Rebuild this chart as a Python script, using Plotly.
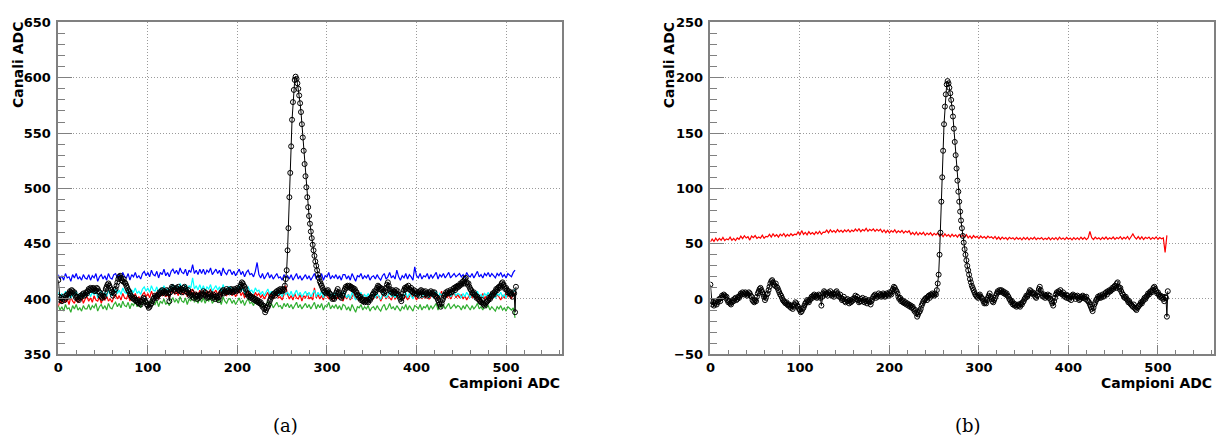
import numpy as np
import plotly.graph_objects as go

# ---------------- data ----------------
# Raw ADC traces (panel a), one value every 2 samples (samples 0..510)
BLUE_A = [
    422,418,421,417,423,419,420,416,422,419,423,418,420,417,422,419,
    418,422,417,421,419,423,416,420,422,418,421,417,423,419,418,422,
    423,419,422,418,424,420,419,423,417,422,420,424,419,421,418,423,
    425,421,424,420,426,422,421,425,419,424,422,427,421,424,420,425,
    427,423,426,422,428,424,423,427,421,426,424,431,423,426,422,427,
    423,427,422,426,424,428,422,425,427,423,426,421,428,424,422,426,
    426,422,425,421,424,427,422,425,420,424,426,422,423,420,425,433,
    422,419,423,418,421,424,419,422,418,421,423,419,420,417,422,419,
    421,418,422,417,420,423,418,421,417,420,422,418,421,417,420,423,
    418,422,419,423,417,421,420,424,418,421,419,422,418,421,417,422,
    422,418,421,417,423,419,416,421,420,423,418,421,419,422,417,420,
    421,418,422,419,417,421,423,418,420,424,419,421,418,426,420,417,
    421,419,423,418,422,420,417,429,421,419,423,418,421,420,423,418,
    422,419,421,424,418,422,420,423,419,422,424,419,421,423,420,422,
    423,420,422,419,424,421,420,423,419,422,425,420,422,419,423,421,
    424,420,423,421,419,423,421,424,420,422,419,423,421,420,424,426,
]
CYAN_A = [
    406,402,405,401,407,403,404,400,406,403,407,402,404,401,406,403,
    403,407,402,406,404,408,401,405,407,403,406,402,408,404,403,407,
    409,405,408,404,410,406,405,409,403,408,406,410,405,407,404,409,
    411,407,410,406,412,408,407,411,405,410,408,412,407,409,406,411,
    413,409,412,408,414,410,409,413,407,412,410,419,409,412,408,413,
    408,412,407,411,409,413,407,410,412,408,411,406,413,409,407,411,
    411,407,410,406,409,412,407,410,405,409,411,407,408,405,410,407,
    408,404,407,403,406,409,404,407,403,406,408,404,405,402,407,404,
    406,403,407,402,405,408,403,406,402,405,407,403,406,402,405,408,
    402,406,403,407,401,405,404,408,402,405,403,406,402,405,401,406,
    405,401,404,400,406,402,399,404,403,406,401,404,402,405,400,403,
    404,401,405,402,400,404,406,401,403,407,402,404,401,405,403,400,
    404,402,406,401,405,403,400,405,404,402,406,401,404,403,406,401,
    405,402,404,407,401,405,403,406,402,405,407,402,404,406,403,405,
    404,401,405,402,406,403,401,405,402,404,407,402,404,401,405,403,
    406,402,405,403,401,405,403,406,402,404,401,406,404,407,405,409,
]
RED_A = [
    393,399,396,401,397,400,395,402,398,396,401,397,399,403,396,400,
    402,398,401,397,403,399,398,402,396,401,399,403,398,400,397,402,
    404,400,403,399,405,401,400,404,398,403,401,405,400,402,399,404,
    406,402,405,401,407,403,402,406,400,405,403,407,402,404,401,406,
    408,404,407,403,409,405,404,408,402,407,405,409,404,406,403,408,
    404,408,403,407,405,409,403,406,408,404,407,402,409,405,403,407,
    407,403,406,402,405,408,403,406,401,405,407,403,404,401,406,403,
    405,401,404,400,403,406,401,404,400,403,405,401,402,399,404,412,
    404,400,403,399,405,401,400,404,398,403,401,405,400,402,399,410,
    401,404,400,403,399,405,402,400,404,399,402,406,400,403,401,398,
    403,400,404,399,402,405,400,403,399,401,404,400,402,398,403,401,
    400,404,401,403,398,402,405,400,403,401,399,404,400,402,405,399,
    404,400,403,399,402,405,401,403,399,402,406,400,403,401,404,400,
    402,406,401,404,400,403,407,402,405,401,404,400,403,406,401,404,
    401,404,400,403,399,402,405,401,404,400,403,398,402,405,400,403,
    404,400,403,406,401,404,402,399,403,401,405,402,404,400,406,405,
]
GREEN_A = [
    394,390,393,389,395,391,392,388,394,391,395,390,392,389,394,391,
    391,395,390,394,392,396,389,393,395,391,394,390,396,392,391,395,
    397,393,396,392,398,394,393,397,391,396,394,398,393,395,392,397,
    399,395,398,394,400,396,395,399,393,398,396,400,395,397,394,399,
    401,397,400,396,402,398,397,401,395,400,398,405,397,400,396,401,
    397,401,396,400,398,402,396,399,401,397,400,395,402,398,396,400,
    400,396,399,395,398,401,396,399,394,398,400,396,397,394,399,396,
    397,393,396,392,395,398,393,396,392,395,397,393,394,391,396,393,
    396,392,395,391,394,397,392,395,391,394,396,392,395,391,394,397,
    391,395,392,396,390,394,393,397,391,394,392,395,391,394,390,395,
    394,390,393,389,395,391,388,393,392,395,390,393,391,394,389,392,
    393,390,394,391,389,393,395,390,392,396,391,393,390,394,392,389,
    393,391,395,390,394,392,389,394,393,391,395,390,393,392,395,390,
    394,391,393,396,390,394,392,395,391,394,396,391,393,395,392,394,
    393,390,394,391,395,392,390,394,391,393,396,391,393,390,394,392,
    394,390,393,391,389,393,391,394,390,392,389,393,391,390,392,383,
]

# Pedestal-subtracted signal, every sample 0..511 (panel b, black)
SIGNAL = [
    13,-2,-5,-3,-6,-4,-2,-5,-3,-1,0,-2,1,3,2,4,
    3,1,2,-1,-3,-2,-4,-5,-3,-1,-2,0,1,-1,0,2,
    1,3,5,4,6,5,4,6,5,3,4,6,5,3,2,-1,
    -2,-3,-1,-2,2,5,7,9,10,8,6,4,2,-1,1,4,
    5,8,11,14,16,17,15,13,12,14,11,10,8,6,4,3,
    1,-1,-2,-3,-4,-3,-5,-6,-5,-7,-8,-6,-9,-7,-5,-3,
    -4,-6,-7,-9,-10,-12,-11,-9,-8,-6,-4,-3,-1,-2,-3,-1,
    0,2,1,3,4,2,3,1,2,4,3,1,-6,2,5,7,
    6,4,5,3,6,5,7,4,3,5,2,4,6,7,5,3,
    2,4,1,-1,0,2,-2,-3,-1,0,-2,-4,-1,-3,-2,0,
    -1,1,3,0,2,-1,-3,-2,0,-2,1,-1,-3,0,-2,-4,
    -2,-1,-3,-5,-2,0,2,3,4,1,3,2,5,3,4,2,
    3,5,4,2,3,5,4,3,6,5,4,7,9,11,10,8,
    7,5,2,0,1,-2,-1,-3,-2,-4,-3,-5,-4,-6,-5,-7,
    -6,-8,-7,-9,-11,-10,-13,-16,-14,-12,-11,-9,-6,-4,-2,-1,
    0,1,-1,2,3,1,4,3,5,4,3,5,4,8,14,22,
    40,60,88,110,134,158,174,185,194,197,195,191,186,180,173,165,
    154,142,130,118,107,97,88,79,71,64,57,51,45,40,35,30,
    26,22,18,15,12,10,8,6,4,3,2,1,3,4,2,1,
    0,-2,-4,-3,-4,-1,1,3,5,2,0,-2,-3,-1,1,3,
    5,7,6,8,7,8,6,7,5,6,4,5,3,2,0,-1,
    -3,-2,-5,-4,-6,-5,-7,-6,-5,-6,-7,-4,-5,-3,-2,0,
    1,3,2,4,6,8,7,5,6,4,5,2,1,3,6,9,
    11,8,5,3,2,4,1,3,2,4,1,3,0,-2,-4,-6,
    -2,1,4,6,5,7,6,8,5,4,6,3,2,4,1,3,
    1,0,2,-1,3,4,2,3,0,2,3,1,-1,0,2,1,
    3,1,2,0,2,-1,-2,-3,-5,-7,-9,-11,-8,-5,-3,-1,
    0,2,1,3,1,2,4,2,3,5,6,4,7,6,8,7,
    8,10,9,11,12,10,14,15,11,9,10,7,5,4,2,1,
    2,0,-1,-3,-2,-4,-5,-6,-7,-5,-8,-9,-10,-8,-7,-6,
    -5,-3,-4,-2,-1,1,0,2,3,5,4,6,7,6,8,10,
    11,9,7,5,6,4,2,3,1,2,0,-2,2,1,-16,7,
]
PEDESTAL = 404  # ADC channels added back to show the raw black trace in panel a

# Panel b red trace, every 2 samples
RED_B = [
    51.5,54.2,52.0,55.0,52.6,54.8,53.1,55.6,52.9,54.3,53.5,55.9,53.0,54.7,52.8,55.2,
    54.0,56.8,54.6,57.2,55.1,56.3,53.2,56.9,55.4,57.3,54.8,56.1,55.0,57.6,54.9,56.6,
    56.2,58.4,56.0,58.9,56.7,58.1,55.9,58.6,57.0,59.2,56.4,58.3,56.8,59.0,57.3,58.5,
    58.1,60.6,57.9,61.8,58.4,60.2,58.0,60.9,58.7,60.1,58.3,60.7,58.9,61.2,58.5,60.4,
    60.2,62.3,59.8,62.6,60.5,61.9,60.1,62.8,60.7,62.0,60.3,62.4,60.9,62.7,60.4,62.2,
    61.0,63.2,61.4,63.5,60.9,62.8,61.6,63.9,61.2,63.0,61.7,63.4,61.1,62.9,61.5,63.1,
    60.3,62.4,60.0,62.1,59.7,61.8,60.4,62.5,59.9,61.6,60.2,61.9,59.6,61.4,60.1,61.7,
    58.4,60.1,58.0,60.5,57.8,59.9,58.3,60.2,57.6,59.5,58.1,59.8,57.4,59.3,57.9,59.6,
    56.7,58.6,56.3,58.9,56.8,58.2,56.1,58.5,56.6,58.0,55.9,58.3,56.4,57.8,56.0,58.1,
    55.2,57.0,54.8,57.3,55.5,56.6,54.6,56.9,55.1,56.4,54.7,56.8,55.3,56.2,54.5,56.5,
    54.1,56.0,53.8,55.9,54.3,55.5,53.6,55.8,54.4,55.3,53.7,55.6,54.0,55.2,53.5,55.7,
    53.9,55.6,53.4,55.3,54.0,55.8,53.7,55.1,54.2,55.5,53.6,55.0,53.9,55.7,53.5,55.2,
    53.8,55.4,53.5,55.9,54.1,55.2,53.6,55.6,54.0,55.1,53.4,55.5,53.9,55.3,53.7,55.8,
    54.0,55.7,53.6,55.2,61.0,55.5,53.8,55.9,54.2,55.3,53.7,55.6,54.1,56.0,53.9,55.4,
    54.3,56.0,53.9,55.6,54.5,56.3,54.0,55.8,54.4,56.5,53.8,56.1,58.8,55.9,54.2,56.4,
    54.1,56.2,53.8,55.7,54.6,56.0,53.9,55.5,54.3,56.1,54.0,55.6,54.4,55.2,42.0,57.5,
]

# axis ticks and labels
X_TICKS = [0, 100, 200, 300, 400, 500]
Y_TICKS_A = [350, 400, 450, 500, 550, 600, 650]
Y_TICKS_B = [-50, 0, 50, 100, 150, 200, 250]
X_TITLE = "Campioni ADC"
Y_TITLE = "Canali ADC"
X_MAX = 562.1

# ---------------- figure ----------------
W, H = 1220, 448
GREEN = "#2fae2f"

def xs_every2(vals):
    return np.arange(len(vals)) * 2

def bold_labels(vals):
    return ["<b>" + str(v).replace("-", "\u2212") + "</b>" for v in vals]

fig = go.Figure()

for vals, col in [(BLUE_A, "#0000ff"), (RED_A, "#ff0000"), (CYAN_A, "#00ffff"), (GREEN_A, GREEN)]:
    fig.add_trace(go.Scatter(x=xs_every2(vals), y=vals, mode="lines",
                             line=dict(color=col, width=1.2), xaxis="x", yaxis="y",
                             hoverinfo="skip", showlegend=False))

raw_black = np.array(SIGNAL) + PEDESTAL
marker = dict(symbol="circle-open", size=5, color="#000000", line=dict(width=1, color="#1a1a1a"))
fig.add_trace(go.Scatter(x=np.arange(len(SIGNAL)), y=raw_black, mode="lines+markers",
                         line=dict(color="#000000", width=1), marker=marker,
                         xaxis="x", yaxis="y", hoverinfo="skip", showlegend=False))

fig.add_trace(go.Scatter(x=xs_every2(RED_B), y=RED_B, mode="lines",
                         line=dict(color="#ff0000", width=1.2), xaxis="x2", yaxis="y2",
                         hoverinfo="skip", showlegend=False))
fig.add_trace(go.Scatter(x=np.arange(len(SIGNAL)), y=SIGNAL, mode="lines+markers",
                         line=dict(color="#000000", width=1), marker=marker,
                         xaxis="x2", yaxis="y2", hoverinfo="skip", showlegend=False))

FRAME = "#808080"
GRID = "#9a9a9a"
tickfont = dict(family="DejaVu Sans", size=13, color="#000000")

def xaxis(domain, anchor):
    return dict(domain=domain, anchor=anchor, range=[0, X_MAX],
                tickmode="array", tickvals=X_TICKS, ticktext=bold_labels(X_TICKS),
                ticks="inside", ticklen=10, tickwidth=1, tickcolor=FRAME,
                minor=dict(ticks="inside", ticklen=5, tick0=0, dtick=20, tickcolor=FRAME, showgrid=False),
                showgrid=True, gridcolor=GRID, griddash="1px,2px", gridwidth=1,
                showline=True, linecolor=FRAME, linewidth=1.5, mirror=True,
                zeroline=False, tickfont=tickfont, ticklabelstandoff=0)

def yaxis(domain, anchor, rng, ticks):
    return dict(domain=domain, anchor=anchor, range=rng,
                tickmode="array", tickvals=ticks, ticktext=bold_labels(ticks),
                ticks="inside", ticklen=14, tickwidth=1, tickcolor=FRAME,
                minor=dict(ticks="inside", ticklen=7, tick0=0, dtick=10, tickcolor=FRAME, showgrid=False),
                showgrid=True, gridcolor=GRID, griddash="1px,2px", gridwidth=1,
                showline=True, linecolor=FRAME, linewidth=1.5, mirror=True,
                zeroline=False, tickfont=tickfont, ticklabelstandoff=3)

ydom = [1 - 359.3 / H, 1 - 16 / H]
fig.update_layout(
    width=W, height=H, margin=dict(l=0, r=0, t=0, b=0),
    paper_bgcolor="white", plot_bgcolor="white",
    xaxis=xaxis([53.5 / W, 559 / W], "y"),
    yaxis=yaxis(ydom, "x", [350, 650], Y_TICKS_A),
    xaxis2=xaxis([708.3 / W, 1213.5 / W], "y2"),
    yaxis2=yaxis(ydom, "x2", [-50, 250], Y_TICKS_B),
)

title_font = dict(family="DejaVu Sans", size=14, color="#000000")
caption_font = dict(family="DejaVu Serif", size=18, color="#000000")
annots = [
    dict(text="<b>" + Y_TITLE + "</b>", x=13 / W, y=1 - 60 / H, textangle=-90, font=title_font),
    dict(text="<b>" + Y_TITLE + "</b>", x=667 / W, y=1 - 60 / H, textangle=-90, font=title_font),
    dict(text="<b>" + X_TITLE + "</b>", x=559 / W, y=1 - 379 / H, xanchor="right", yanchor="top", font=title_font),
    dict(text="<b>" + X_TITLE + "</b>", x=1213.5 / W, y=1 - 379 / H, xanchor="right", yanchor="top", font=title_font),
    dict(text="(a)", x=282 / W, y=1 - 433 / H, font=caption_font),
    dict(text="(b)", x=967 / W, y=1 - 433 / H, font=caption_font),
]
for a in annots:
    a.update(xref="paper", yref="paper", showarrow=False)
    a.setdefault("xanchor", "center")
    a.setdefault("yanchor", "middle")
fig.update_layout(annotations=annots)

fig.write_html("out.html")
